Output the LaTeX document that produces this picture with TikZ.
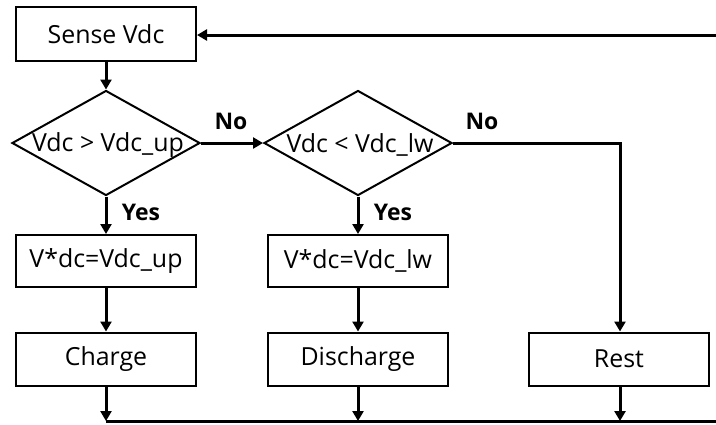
\documentclass[tikz,border=0pt]{standalone}
\usepackage{fontspec}
\setmainfont{Open Sans}
\usetikzlibrary{arrows.meta,shapes.geometric}
\begin{document}
\begin{tikzpicture}[x=1bp,y=-1bp,
  box/.style={draw,line width=2bp,minimum width=180bp,minimum height=53bp,inner sep=0pt,font=\fontsize{25}{30}\selectfont},
  dia/.style={draw,diamond,line width=2bp,minimum width=188bp,minimum height=105bp,inner sep=0pt,aspect=1.79},
  lbl/.style={font=\fontsize{25}{30}\selectfont},
  ans/.style={font=\bfseries\fontsize{23}{27}\selectfont},
  arr/.style={line width=3bp,-{Triangle[length=10bp,width=11bp]}},
  ln/.style={line width=3bp}]
\useasboundingbox (0,0) rectangle (716,424);
\node[box,minimum height=54bp] (sense) at (106,34) {Sense Vdc};
\node[dia] (d1) at (106,143) {};
\node[lbl] (t1) at (108,145) {Vdc > Vdc\_up};
\node[dia] (d2) at (358,143) {};
\node[lbl] (t2) at (360,145) {Vdc < Vdc\_lw};
\node[box,minimum height=52bp] (b1) at (106,261) {V*dc=Vdc\_up};
\node[box,minimum height=52bp] (b2) at (358,261) {V*dc=Vdc\_lw};
\node[box] (charge) at (106,359) {Charge};
\node[box] (dis) at (358,359) {Discharge};
\node[box] (rest) at (619,359) {Rest};
\node[ans] (no1) at (231,121) {No};
\node[ans] (no2) at (482,121) {No};
\node[ans] (yes1) at (141,212) {Yes};
\node[ans] (yes2) at (393,212) {Yes};
\coordinate (topr) at (716,35);
\coordinate (c1) at (106,421);
\coordinate (c2) at (358,421);
\coordinate (c3) at (620,421);
\coordinate (botr) at (716,421);
\coordinate (bend) at (620,143);
\draw[arr] (topr) -- (sense.east |- topr);
\draw[arr] (sense.south) -- (d1.north);
\draw[arr] (d1.east) -- (d2.west);
\draw[arr] (d1.south) -- (b1.north);
\draw[arr] (d2.south) -- (b2.north);
\draw[arr] (b1.south) -- (charge.north);
\draw[arr] (b2.south) -- (dis.north);
\draw[arr] (d2.east) -- (bend) -- (rest.north -| bend);
\draw[arr] (charge.south) -- (c1);
\draw[arr] (dis.south) -- (c2);
\draw[arr] (rest.south -| c3) -- (c3);
\draw[ln] (c1) -- (botr);
\end{tikzpicture}
\end{document}
